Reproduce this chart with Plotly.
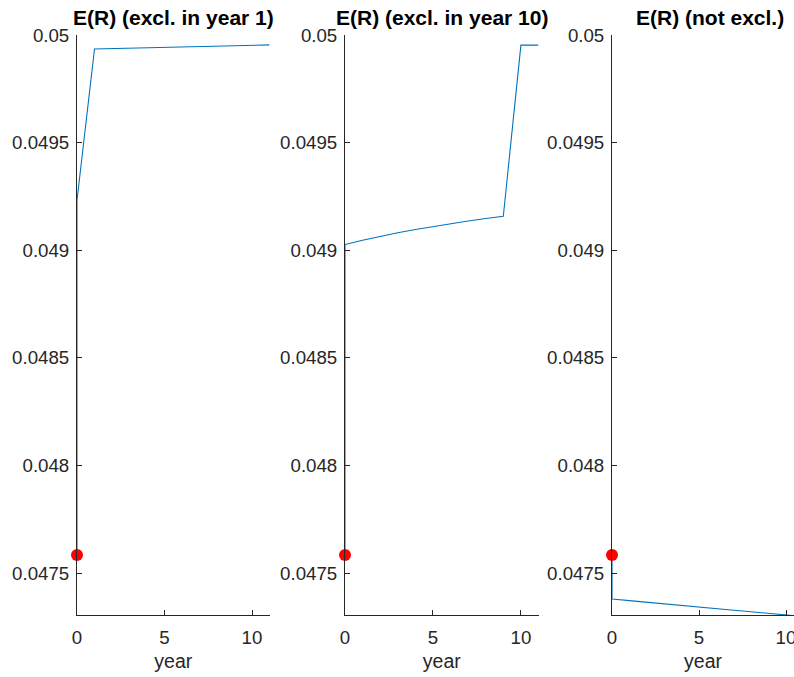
import plotly.graph_objects as go

# Expected return paths over time under three exclusion scenarios
years = [0, 1, 2, 3, 4, 5, 6, 7, 8, 9, 10, 11]
er_start = 0.047584  # common starting value (red marker at year 0)

er_excl_year1 = [0.049232, 0.049935, 0.049937, 0.049939, 0.049941, 0.049943,
                 0.049945, 0.049947, 0.049949, 0.049950, 0.049952, 0.049954]
er_excl_year10 = [0.0490265, 0.0490465, 0.0490645, 0.0490815, 0.0490965, 0.0491105,
                  0.0491235, 0.0491355, 0.049147, 0.049158, 0.049953, 0.049953]
er_not_excl = [0.047379, 0.047372, 0.047364, 0.047357, 0.047349, 0.047342,
               0.047335, 0.047327, 0.047320, 0.047312, 0.047305, 0.047298]

titles = ["E(R) (excl. in year 1)", "E(R) (excl. in year 10)", "E(R) (not excl.)"]
series = [er_excl_year1, er_excl_year10, er_not_excl]
y_ticks = [0.0475, 0.048, 0.0485, 0.049, 0.0495, 0.05]
y_tick_text = ["0.0475", "0.048", "0.0485", "0.049", "0.0495", "0.05"]
x_ticks = [0, 5, 10]

W, H = 794, 677
# panel pixel extents (left, right) and x-range upper bounds
panels = [(77, 269.5, 11), (345, 538.5, 11), (612, 794, 10.46)]
y_top, y_bot = 35, 615
y_range = [0.047305, 0.05]

BLUE = "#0072BD"
TXT = "#262626"
FONT = "Liberation Sans, Arial, Helvetica, sans-serif"

fig = go.Figure()
layout = dict(
    template="none",
    width=W, height=H, margin=dict(l=0, r=0, t=0, b=0, autoexpand=False),
    paper_bgcolor="white", plot_bgcolor="white", showlegend=False,
    font=dict(family=FONT, color=TXT, size=18.7),
    annotations=[],
)

for i, ((x0, x1, xmax), vals, title) in enumerate(zip(panels, series, titles)):
    n = "" if i == 0 else str(i + 1)
    xa, ya = "x" + n, "y" + n
    fig.add_trace(go.Scatter(
        x=[0] + years, y=[er_start] + vals, mode="lines",
        line=dict(color=BLUE, width=1.1), xaxis=xa, yaxis=ya, cliponaxis=False,
    ))
    fig.add_trace(go.Scatter(
        x=[0], y=[er_start], mode="markers",
        marker=dict(color="red", size=12, line=dict(width=0)),
        xaxis=xa, yaxis=ya, cliponaxis=False,
    ))
    axis_common = dict(
        showgrid=False, zeroline=False, showline=True, linecolor=TXT, linewidth=1,
        ticks="inside", ticklen=5, tickwidth=1, tickcolor=TXT, automargin=False,
        tickfont=dict(size=18.7, color=TXT, family=FONT),
        ticklabeloverflow="allow",
    )
    layout["xaxis" + n] = dict(
        axis_common, domain=[x0 / W, x1 / W], range=[0, xmax], anchor=ya,
        tickvals=x_ticks, ticklabelstandoff=6,
        title=dict(text="year", font=dict(size=19.5, color=TXT), standoff=6),
    )
    layout["yaxis" + n] = dict(
        axis_common, domain=[(H - y_bot) / H, (H - y_top) / H], range=y_range, anchor=xa,
        tickvals=y_ticks, ticktext=y_tick_text, ticklabelstandoff=3,
    )
    cx = (x0 + x1) / 2 if i < 2 else 710
    layout["annotations"].append(dict(
        text="<b>" + title + "</b>", x=cx / W, y=(H - 18) / H, xref="paper", yref="paper",
        showarrow=False, xanchor="center", yanchor="middle",
        font=dict(size=21, color="black", family=FONT),
    ))

fig.update_layout(**layout)
fig.write_html("out.html")
